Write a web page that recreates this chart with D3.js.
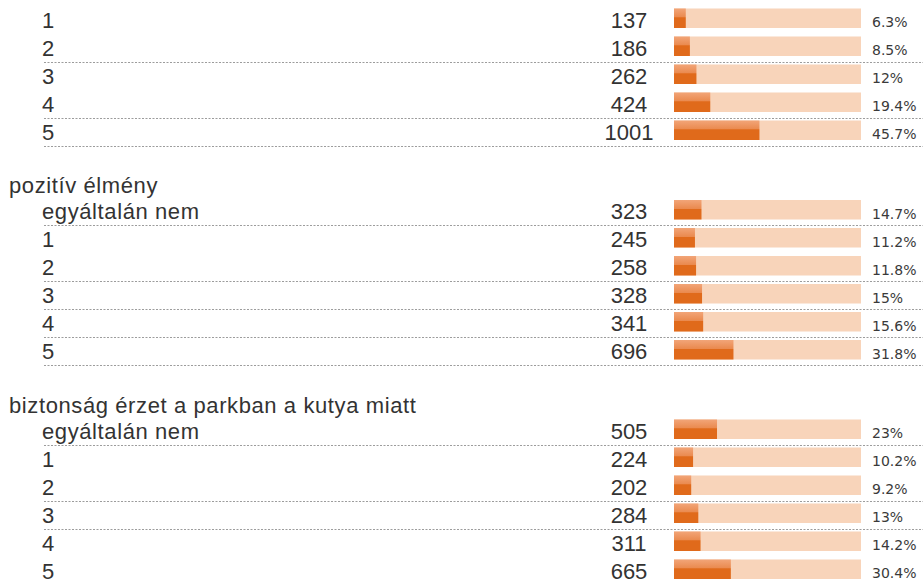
<!DOCTYPE html>
<html>
<head>
<meta charset="utf-8">
<script src="https://cdn.jsdelivr.net/npm/d3@7"></script>
<style>
  body { margin: 0; background: #fff; }
  .row-label, .section-title { font-family: 'Liberation Sans', Arial, sans-serif; font-size: 22px; fill: #333; letter-spacing: 0.6px; }
  .count-label { font-family: 'Liberation Sans', Arial, sans-serif; font-size: 22px; fill: #333; }
  .pct-label { font-family: 'DejaVu Sans', Verdana, sans-serif; font-size: 14px; fill: #3a3a3a; }
  .row-rule { stroke: #9c9c9c; stroke-width: 1.2; stroke-dasharray: 2,1.5; }
  .bar-bg { fill: #f8d4ba; }
</style>
</head>
<body>
<div id="chart"></div>
<script>
// values
const sectionTitles = ['', 'pozitív élmény', 'biztonság érzet a parkban a kutya miatt'];
const firstLabels = ['1', '2', '3', '4', '5'];
const scaleLabels = ['egyáltalán nem', '1', '2', '3', '4', '5'];
const firstCounts = [137, 186, 262, 424, 1001];
const firstPcts = [6.3, 8.5, 12, 19.4, 45.7];
const pozitivCounts = [323, 245, 258, 328, 341, 696];
const pozitivPcts = [14.7, 11.2, 11.8, 15, 15.6, 31.8];
const biztonsagCounts = [505, 224, 202, 284, 311, 665];
const biztonsagPcts = [23, 10.2, 9.2, 13, 14.2, 30.4];
// rows that show a dotted rule under them: [section, row]
const dottedRules = [[0, 1], [0, 3], [0, 4], [1, 0], [1, 2], [1, 3], [1, 4], [1, 5], [2, 0], [2, 2], [2, 3]];

class FreqTable {
  constructor(_config, _sections) {
    this.config = {
      parentElement: _config.parentElement,
      containerWidth: _config.containerWidth || 923,
      containerHeight: _config.containerHeight || 582,
      rowHeight: 28,
      titleGap: 51.5,
      firstTop: 5.5,
    };
    this.sections = _sections;
    this.initVis();
  }

  initVis() {
    let vis = this;

    vis.svg = d3
      .select(vis.config.parentElement)
      .append('svg')
      .attr('width', vis.config.containerWidth)
      .attr('height', vis.config.containerHeight)
      .attr('display', 'block');

    // two-tone orange for the filled part of each bar
    const grad = vis.svg.append('defs').append('linearGradient')
      .attr('id', 'bar-fill')
      .attr('x1', 0).attr('x2', 0).attr('y1', 0).attr('y2', 1);
    grad.append('stop').attr('offset', '0%').attr('stop-color', '#f2a578');
    grad.append('stop').attr('offset', '44%').attr('stop-color', '#ea8a4f');
    grad.append('stop').attr('offset', '47%').attr('stop-color', '#e06a1b');
    grad.append('stop').attr('offset', '100%').attr('stop-color', '#e06a1b');

    vis.xScale = d3.scaleLinear().domain([0, 100]).range([674, 861]);

    // stack the sections one under the other
    let top = vis.config.firstTop;
    vis.sections.forEach((s) => {
      s.top = top;
      s.yScale = d3.scaleBand()
        .domain(d3.range(s.labels.length))
        .range([top, top + s.labels.length * vis.config.rowHeight]);
      top += s.labels.length * vis.config.rowHeight + vis.config.titleGap;
    });

    vis.renderVis();
  }

  renderVis() {
    let vis = this;

    const rows = [];
    vis.sections.forEach((s, si) => {
      s.labels.forEach((l, i) => {
        rows.push({ si: si, i: i, label: l, count: s.counts[i], pct: s.pcts[i], y: s.yScale(i) });
      });
    });

    // section headings
    vis.svg.selectAll('.section-title')
      .data(vis.sections.filter((s) => s.title))
      .join('text')
      .attr('class', 'section-title')
      .attr('x', 9)
      .attr('y', (d) => d.top - 4)
      .text((d) => d.title);

    // dotted rules
    vis.svg.selectAll('.row-rule')
      .data(dottedRules)
      .join('line')
      .attr('class', 'row-rule')
      .attr('x1', 44)
      .attr('x2', vis.config.containerWidth)
      .attr('y1', (d) => Math.round(vis.sections[d[0]].yScale(d[1]) + vis.config.rowHeight) + 0.5)
      .attr('y2', (d) => Math.round(vis.sections[d[0]].yScale(d[1]) + vis.config.rowHeight) + 0.5);

    const g = vis.svg.selectAll('.row')
      .data(rows)
      .join('g')
      .attr('class', 'row');

    g.append('text')
      .attr('class', 'row-label')
      .attr('x', 42)
      .attr('y', (d) => d.y + 22)
      .text((d) => d.label);

    g.append('text')
      .attr('class', 'count-label')
      .attr('text-anchor', 'middle')
      .attr('x', 629)
      .attr('y', (d) => d.y + 22)
      .text((d) => d.count);

    g.append('rect')
      .attr('class', 'bar-bg')
      .attr('x', vis.xScale(0))
      .attr('y', (d) => d.y + 3)
      .attr('width', vis.xScale(100) - vis.xScale(0))
      .attr('height', 19.5);

    g.append('rect')
      .attr('class', 'bar')
      .attr('fill', 'url(#bar-fill)')
      .attr('x', vis.xScale(0))
      .attr('y', (d) => d.y + 3)
      .attr('width', (d) => vis.xScale(d.pct) - vis.xScale(0))
      .attr('height', 19.5);

    g.append('text')
      .attr('class', 'pct-label')
      .attr('x', 872)
      .attr('y', (d) => d.y + 21.5)
      .text((d) => d.pct + '%');
  }
}

const sections = [
  { title: sectionTitles[0], labels: firstLabels, counts: firstCounts, pcts: firstPcts },
  { title: sectionTitles[1], labels: scaleLabels, counts: pozitivCounts, pcts: pozitivPcts },
  { title: sectionTitles[2], labels: scaleLabels, counts: biztonsagCounts, pcts: biztonsagPcts },
];

new FreqTable({ parentElement: '#chart' }, sections);
</script>
</body>
</html>
